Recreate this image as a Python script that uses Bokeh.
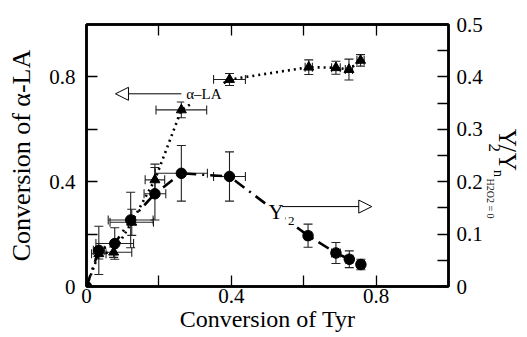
import math
from bokeh.plotting import figure
from bokeh.layouts import row
from bokeh.models import (Range1d, LinearAxis, FixedTicker, CustomJSTickFormatter,
                          ColumnDataSource, Whisker, TeeHead, Arrow, NormalHead, Label)
from bokeh.embed import file_html
from bokeh.resources import INLINE

# ---- data ----
la_x = [0, 0.034, 0.075, 0.125, 0.189, 0.262, 0.395, 0.614, 0.689, 0.725, 0.757]
la_y = [0, 0.125, 0.131, 0.245, 0.407, 0.674, 0.790, 0.837, 0.835, 0.828, 0.863]
la_xerr = [0, 0.020, 0.050, 0.060, 0.027, 0.070, 0.044, 0.010, 0.012, 0.010, 0.010]
la_yerr = [0, 0.020, 0.020, 0.050, 0.060, 0.030, 0.023, 0.028, 0.025, 0.040, 0.022]

y2_x = [0, 0.034, 0.078, 0.122, 0.189, 0.262, 0.395, 0.612, 0.689, 0.726, 0.758]
y2_y = [0, 0.069, 0.082, 0.127, 0.177, 0.216, 0.210, 0.097, 0.064, 0.052, 0.042]
y2_xerr = [0, 0.015, 0.052, 0.062, 0.030, 0.072, 0.044, 0.010, 0.012, 0.010, 0.010]
y2_yerr = [0, 0.046, 0.030, 0.053, 0.050, 0.053, 0.047, 0.022, 0.020, 0.016, 0.010]

x_major = [0, 0.4, 0.8]
x_minor = [0.2, 0.6]
yl_major = [0, 0.4, 0.8]
yl_minor = [0.2, 0.6]
yr_major = [0, 0.1, 0.2, 0.3, 0.4, 0.5]
yr_minor = [0.05, 0.15, 0.25, 0.35, 0.45]

x_title = "Conversion of Tyr"
yl_title = "Conversion of α-LA"
# right title pieces: text, font size, level (main line / subscript / sub-subscript)
yr_title = [("Y", "25px", "main"), ("2", "17px", "sub"), ("/", "25px", "main"),
            ("Y", "25px", "main"), ("n", "14px", "sub"), ("H2O2 = 0", "10px", "subsub")]

FONT = "Liberation Serif"

p = figure(width=485, height=337, output_backend="svg", toolbar_location=None,
           x_range=Range1d(0, 1), y_range=Range1d(0, 1),
           min_border_left=86, min_border_right=35, min_border_top=24, min_border_bottom=51)
p.extra_y_ranges = {"right": Range1d(0, 0.5)}
p.grid.visible = False
p.outline_line_color = "black"
p.outline_line_width = 2.5
p.outline_line_alpha = 1

fmt = CustomJSTickFormatter(code="return tick == 0 ? '0' : tick.toFixed(1);")


def style(ax, major, minor, standoff):
    ax.ticker = FixedTicker(ticks=major, minor_ticks=minor)
    ax.formatter = fmt
    ax.major_tick_in = 11
    ax.major_tick_out = 0
    ax.minor_tick_in = 11
    ax.minor_tick_out = 0
    ax.major_tick_line_width = 1.3
    ax.minor_tick_line_width = 1.3
    ax.axis_line_width = 2.5
    ax.major_label_text_font = FONT
    ax.major_label_text_font_size = "21px"
    ax.major_label_text_color = "black"
    ax.major_label_standoff = standoff
    ax.axis_label_text_font = FONT
    ax.axis_label_text_font_style = "normal"
    ax.axis_label_text_color = "black"


style(p.xaxis[0], x_major, x_minor, 2)
p.xaxis[0].axis_label = x_title
p.xaxis[0].axis_label_text_font_size = "24px"
p.xaxis[0].axis_label_standoff = 0

style(p.yaxis[0], yl_major, yl_minor, 11)
p.yaxis[0].axis_label = yl_title
p.yaxis[0].axis_label_text_font_size = "26px"
p.yaxis[0].axis_label_standoff = 10

top = LinearAxis()
style(top, [], [0.2, 0.4, 0.6, 0.8], 0)
p.add_layout(top, "above")

right = LinearAxis(y_range_name="right")
style(right, yr_major, yr_minor, 8)
p.add_layout(right, "right")


# ---- error bars ----
def whiskers(xs, ys, xe, ye, rname):
    idx = [i for i in range(len(xs)) if xe[i] > 0 or ye[i] > 0]
    src = ColumnDataSource(dict(
        x=[xs[i] for i in idx], y=[ys[i] for i in idx],
        xl=[xs[i] - xe[i] for i in idx], xu=[xs[i] + xe[i] for i in idx],
        yl=[ys[i] - ye[i] for i in idx], yu=[ys[i] + ye[i] for i in idx]))
    kw = dict(line_color="#222222", line_width=1.1, level="underlay")
    if rname:
        kw["y_range_name"] = rname

    def head():
        return TeeHead(size=9, line_color="#222222", line_width=1.1)

    p.add_layout(Whisker(base="x", lower="yl", upper="yu", dimension="height", source=src,
                         lower_head=head(), upper_head=head(), **kw))
    p.add_layout(Whisker(base="y", lower="xl", upper="xu", dimension="width", source=src,
                         lower_head=head(), upper_head=head(), **kw))


whiskers(la_x, la_y, la_xerr, la_yerr, None)
whiskers(y2_x, y2_y, y2_xerr, y2_yerr, "right")

# ---- series ----
p.line(la_x, la_y, line_color="black", line_width=2.6, line_dash="2 4")
p.scatter(la_x, la_y, marker="triangle", size=10, color="black")
p.line(y2_x, y2_y, y_range_name="right", line_color="black", line_width=2.6,
       line_dash="12 6 2 6")
p.scatter(y2_x, y2_y, marker="circle", size=10.5, color="black", y_range_name="right")

# ---- in-plot annotations (white boxes hide the curves beneath, as in the original) ----
p.add_layout(Label(x=0.270, y=0.7355, text="α–LA", text_font=FONT, text_font_size="15px",
                   text_baseline="middle", text_align="left", text_color="black",
                   background_fill_color="white", padding=2))
p.add_layout(Label(x=0.497, y=0.283, text="Y", text_font=FONT, text_font_size="21px",
                   text_baseline="alphabetic", text_align="left", text_color="black",
                   background_fill_color="white", padding=2))
p.add_layout(Label(x=0.551, y=0.250, text="2", text_font=FONT, text_font_size="13px",
                   text_baseline="alphabetic", text_align="left", text_color="black",
                   background_fill_color="white", padding=2))

p.add_layout(Arrow(x_start=0.262, y_start=0.7355, x_end=0.080, y_end=0.7355,
                   line_color="black", line_width=1,
                   end=NormalHead(size=13, fill_color="white", line_color="black", line_width=1)))
p.add_layout(Arrow(x_start=0.540, y_start=0.305, x_end=0.788, y_end=0.305,
                   line_color="black", line_width=1,
                   end=NormalHead(size=13, fill_color="white", line_color="black", line_width=1)))

# ---- right-hand title strip (page-pixel coordinates) ----
strip = figure(width=42, height=337, output_backend="svg", toolbar_location=None,
               x_range=Range1d(485, 527), y_range=Range1d(337, 0),
               x_axis_location=None, y_axis_location=None,
               min_border=0, outline_line_color=None)
strip.grid.visible = False

base_x = {"main": 507, "sub": 494, "subsub": 490}
starts = [134, 153, 155, 165, 187, 198]
for (tx, fs, kind), sy in zip(yr_title, starts):
    xx = base_x[kind] + (4 if tx == "n" else 0)
    strip.add_layout(Label(x=xx, y=sy, text=tx, text_font=FONT, text_font_size=fs,
                           text_align="left", text_baseline="alphabetic",
                           angle=-math.pi / 2, text_color="black"))

layout = row(p, strip, spacing=0)
open("out.html", "w").write(file_html(layout, INLINE))
